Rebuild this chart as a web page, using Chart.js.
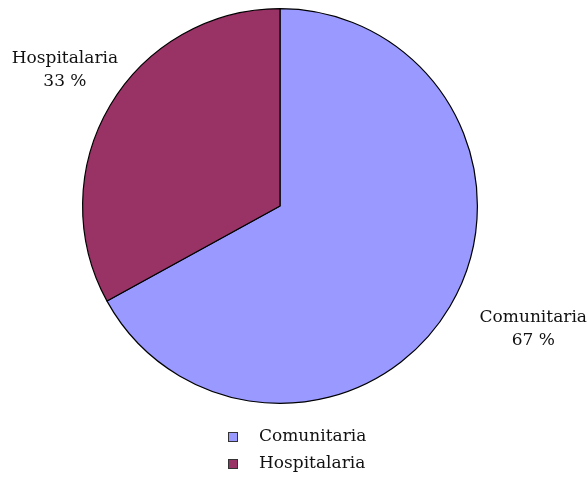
<!DOCTYPE html>
<html>
<head>
<meta charset="utf-8">
<script src="https://cdn.jsdelivr.net/npm/chart.js@4"></script>
<style>
  html, body { margin: 0; padding: 0; background: #fff; }
  #wrap { width: 588px; height: 483px; position: relative; }
</style>
</head>
<body>
<div id="wrap"><canvas id="pie"></canvas></div>
<script>
// Origen de la infección
const categories = ['Comunitaria', 'Hospitalaria'];
const percentages = [67, 33];
const sliceColors = ['#9999ff', '#993366'];

const FONT = '"DejaVu Serif", serif';

// Slice labels outside the pie: radial factor + horizontal nudge per slice
const outsideLabels = {
    id: 'outsideLabels',
    afterDatasetsDraw(chart, args, opts) {
        const { ctx } = chart;
        const meta = chart.getDatasetMeta(0);
        ctx.save();
        ctx.font = `${opts.size}px ${FONT}`;
        ctx.fillStyle = '#111';
        ctx.textAlign = 'center';
        ctx.textBaseline = 'middle';
        meta.data.forEach((arc, i) => {
            const { x, y, startAngle, endAngle, outerRadius } = arc.getProps(['x', 'y', 'startAngle', 'endAngle', 'outerRadius'], true);
            const mid = (startAngle + endAngle) / 2;
            const p = opts.place[i];
            const lx = x + Math.cos(mid) * outerRadius * p.k + p.dx;
            const ly = y + Math.sin(mid) * outerRadius * p.k;
            ctx.fillText(categories[i], lx, ly - 11);
            ctx.fillText(`${percentages[i]} %`, lx, ly + 12);
        });
        ctx.restore();
    },
};

// Vertical legend under the pie
const stackedLegend = {
    id: 'stackedLegend',
    afterDraw(chart, args, opts) {
        const { ctx, chartArea } = chart;
        ctx.save();
        ctx.font = `${opts.size}px ${FONT}`;
        ctx.textBaseline = 'middle';
        ctx.textAlign = 'left';
        categories.forEach((name, i) => {
            const rowY = chartArea.bottom + opts.top + i * opts.rowGap;
            const bx = opts.left;
            ctx.fillStyle = sliceColors[i];
            ctx.fillRect(bx, rowY - 5, 10, 10);
            ctx.strokeStyle = '#333';
            ctx.lineWidth = 1;
            ctx.strokeRect(bx + 0.5, rowY - 4.5, 9, 9);
            ctx.fillStyle = '#111';
            ctx.fillText(name, bx + 31, rowY);
        });
        ctx.restore();
    },
};

new Chart(document.getElementById('pie'), {
    type: 'pie',
    data: {
        labels: categories,
        datasets: [{
            data: percentages,
            backgroundColor: sliceColors,
            borderColor: '#000',
            borderWidth: 1.2,
        }],
    },
    options: {
        responsive: true,
        maintainAspectRatio: false,
        animation: false,
        layout: { padding: { top: 8, bottom: 79, left: 0, right: 28 } },
        plugins: {
            legend: { display: false },
            tooltip: { enabled: false },
            outsideLabels: {
                size: 17,
                place: [{ k: 1.22, dx: 46 }, { k: 1.36, dx: 16 }],
            },
            stackedLegend: { size: 17, top: 33, rowGap: 27, left: 228 },
        },
    },
    plugins: [outsideLabels, stackedLegend],
});
</script>
</body>
</html>
